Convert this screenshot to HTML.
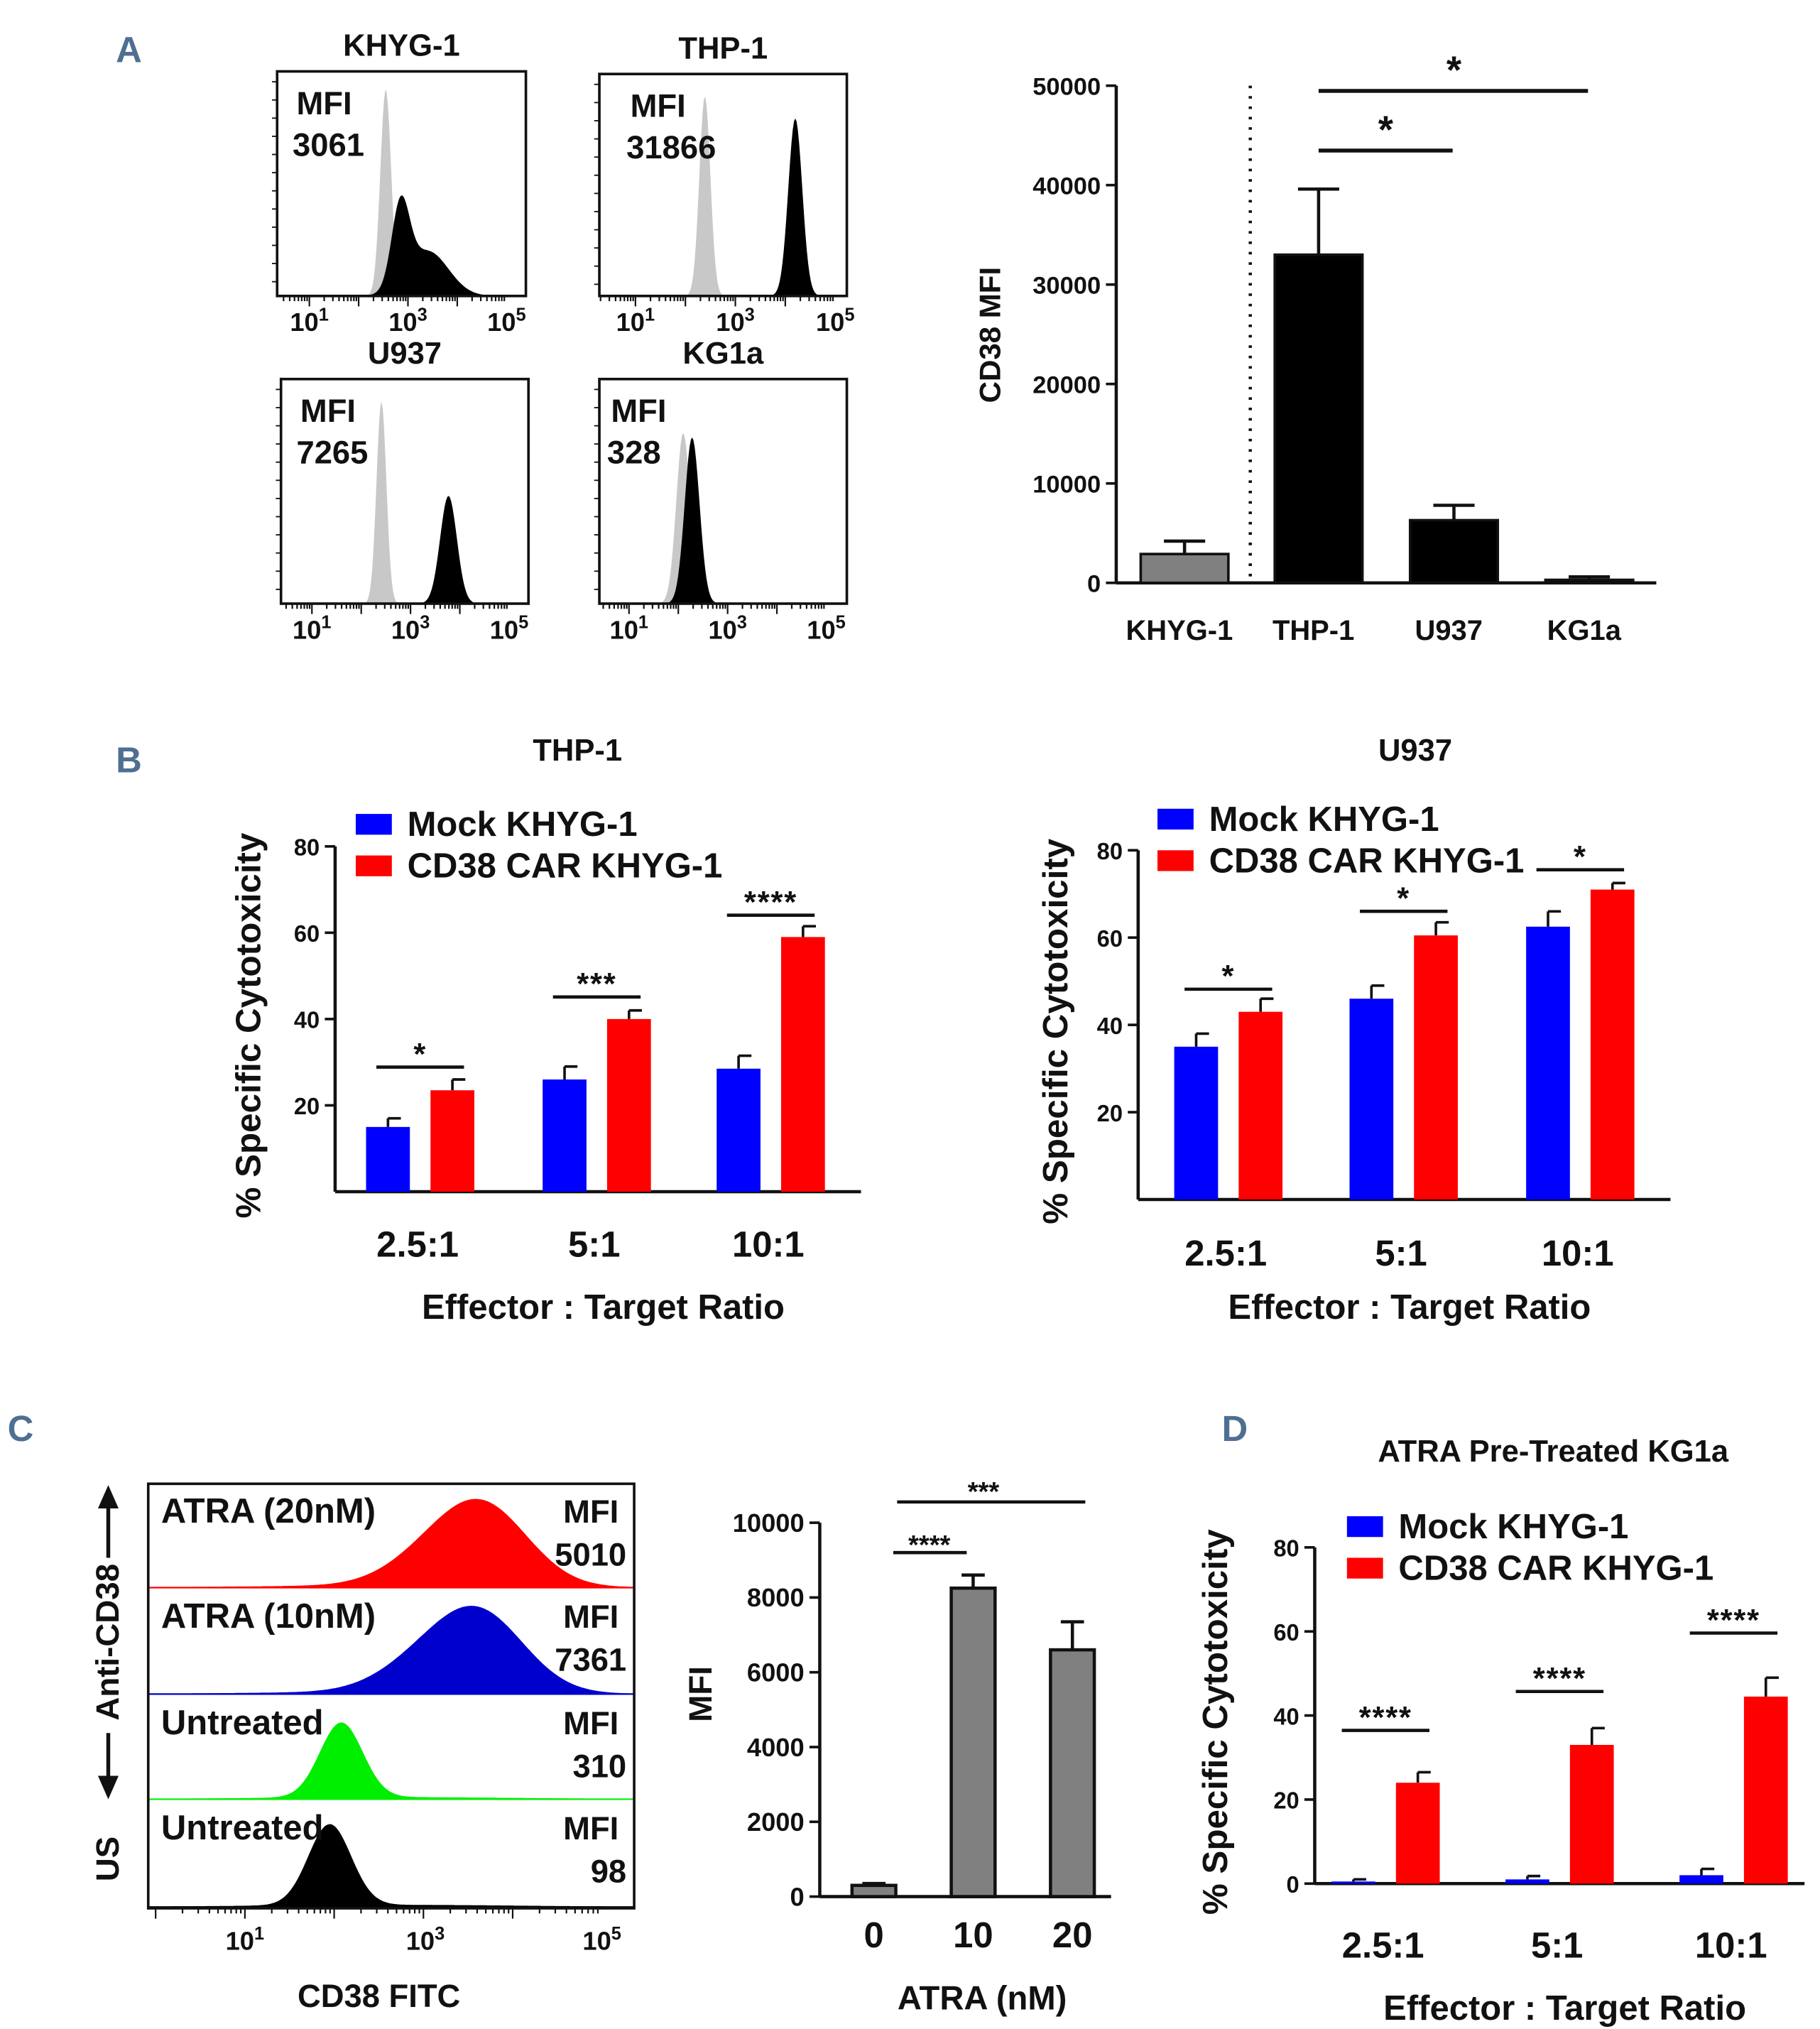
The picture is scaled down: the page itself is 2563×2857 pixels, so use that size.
<!DOCTYPE html>
<html><head><meta charset="utf-8"><style>
html,body{margin:0;padding:0;background:#fff}
svg{display:block}
text{font-family:"Liberation Sans",sans-serif;font-weight:bold;fill:#111}
</style></head><body>
<svg id="fig" width="2563" height="2857" viewBox="0 0 1412 1563" preserveAspectRatio="none" xmlns="http://www.w3.org/2000/svg">
<rect width="1412" height="1563" fill="#fff"/>
</svg>
<script>
// ---- data ----
const aCats=["KHYG-1","THP-1","U937","KG1a"];
const aVals=[2900,33000,6300,300];
const aErr=[4200,39600,7800,600];
const aTicks=[0,10000,20000,30000,40000,50000];
const bCats=["2.5:1","5:1","10:1"];
const bThpMock=[15,26,28.5];
const bThpMockErr=[17,29,31.5];
const bThpCar=[23.5,40,59];
const bThpCarErr=[26,42,61.5];
const bU937Mock=[35,46,62.5];
const bU937MockErr=[38,49,66];
const bU937Car=[43,60.5,71];
const bU937CarErr=[46,63.5,72.5];
const cCats=["0","10","20"];
const cVals=[300,8250,6600];
const cErr=[350,8600,7350];
const cTicks=[0,2000,4000,6000,8000,10000];
const dMock=[0.5,1,2];
const dMockErr=[1,1.8,3.5];
const dCar=[24,33,44.5];
const dCarErr=[26.5,37,49];
const pctTicks=[20,40,60,80];
const dTicks=[0,20,40,60,80];

const NS="http://www.w3.org/2000/svg";
const svg=document.getElementById('fig');
function el(tag,attrs,parent){const e=document.createElementNS(NS,tag);for(const k in attrs)e.setAttribute(k,attrs[k]);(parent||svg).appendChild(e);return e;}
function txt(x,y,s,size,anchor,name,extra){const t=el('text',Object.assign({x:x,y:y,'font-size':size,'text-anchor':anchor||'middle'},extra||{}));t.textContent=s;


return t;}
function line(x1,y1,x2,y2,w,name,extra){const l=el('line',Object.assign({x1:x1,y1:y1,x2:x2,y2:y2,stroke:'#111','stroke-width':w||2},extra||{}));


return l;}
function rect(x,y,w,h,fill,name){const r=el('rect',{x:x,y:y,width:w,height:h,fill:fill});


return r;}
function pow10(x,y,exp,size,name){const t=el('text',{x:x,y:y,'font-size':size,'text-anchor':'middle'});


t.textContent='10';const s=el('tspan',{dy:-8,'font-size':size*0.7},t);s.textContent=exp;}
const panelColor='#4f6f92';

[['A',100,48],['B',100,595],['C',16,1110],['D',958,1110]].forEach(p=>{const t=txt(p[1],p[2],p[0],28,'middle','panel-label-'+p[0].toLowerCase(),{fill:panelColor});t.style.fill=panelColor;});

function hist(box,t1,t5,comps,fill,name){
  const [x0,y0,x1,y1]=box;const per=(t5-t1)/4;const H=y1-y0;
  let d='M'+x0+','+y1;
  for(let x=x0;x<=x1;x+=1){const lv=1+(x-t1)/per;let v=0;comps.forEach(c=>{v+=c[2]*Math.exp(-0.5*Math.pow((lv-c[0])/c[1],2));});
    d+=' L'+x+','+(y1-Math.min(v,0.98)*H).toFixed(1);}
  d+=' L'+x1+','+y1+' Z';
  const p=el('path',{d:d,fill:fill,stroke:'none'});
  
  
}
function flowPanel(box,t1,t5,title,mfi,grey,black,key,labelX){
  const [x0,y0,x1,y1]=box;
  hist(box,t1,t5,grey,'#c8c8c8',key+'-isotype-histogram');
  hist(box,t1,t5,black,'#000',key+'-cd38-histogram');
  const r=el('rect',{x:x0,y:y0,width:x1-x0,height:y1-y0,fill:'none',stroke:'#111','stroke-width':2});
  
  
  for(let d=0;d<5;d++){for(let m=1;m<10;m++){const x=t1+(d-1+Math.log10(m))*(t5-t1)/4;if(x<x0||x>x1)continue;line(x,y1,x,y1+(m==1?8:4),1.2,key+'-x-tick');}}
  for(let i=0;i<12;i++){line(x0,y0+8+i*14,x0-4,y0+8+i*14,1,key+'-y-tick');}
  txt((x0+x1)/2,y0-12,title,24,'middle',key+'-title');
  txt(labelX,y0+33,'MFI',25,'start',key+'-mfi-label');
  txt(labelX-3,y0+65,mfi,25,'start',key+'-mfi-value');
  pow10(t1,y1+27,'1',20,key+'-tick-label-1');
  pow10(t1+(t5-t1)/2,y1+27,'3',20,key+'-tick-label-3');
  pow10(t5,y1+27,'5',20,key+'-tick-label-5');
}
flowPanel([215,55,408,228],240,393,'KHYG-1','3061',[[2.55,0.11,0.92]],[[2.85,0.18,0.36],[3.4,0.42,0.2]],'khyg1',230);
flowPanel([465,57,657,228],493,648,'THP-1','31866',[[2.39,0.11,0.9]],[[4.2,0.14,0.8]],'thp1',489);
flowPanel([218,292,410,465],242,395,'U937','7265',[[2.41,0.1,0.9]],[[3.77,0.17,0.48]],'u937',233);
flowPanel([465,292,657,465],488,641,'KG1a','328',[[2.1,0.14,0.76]],[[2.28,0.15,0.74]],'kg1a',474);

(function(){
  const ax=866,y0=449,yTop=66,xEnd=1285;
  const y=v=>y0-(v/50000)*(y0-yTop);
  const xs=[919,1023,1128,1233],w=68;
  line(ax,yTop,ax,y0,2.5,'a-y-axis');line(ax,y0,xEnd,y0,2.5,'a-x-axis');
  aTicks.forEach(t=>{line(ax-8,y(t),ax,y(t),2,'a-y-tick');txt(ax-12,y(t)+7,String(t),19,'end','a-y-tick-label');});
  txt(0,0,'CD38 MFI',23,'middle','a-y-axis-title',{transform:'translate(776,258) rotate(-90)'});
  line(970,yTop,970,y0,2.5,'a-divider',{'stroke-dasharray':'2,6'});
  aCats.forEach((c,i)=>{const cx=xs[i];
    line(cx,y(aErr[i]),cx,y(aVals[i]),2.5,'a-error-bar');line(cx-16,y(aErr[i]),cx+16,y(aErr[i]),2.5,'a-error-cap');
    const r=rect(cx-w/2,y(aVals[i]),w,y0-y(aVals[i]),i==0?'#808080':'#000','a-bar-'+c.toLowerCase());r.setAttribute('stroke','#111');r.setAttribute('stroke-width','2');
    txt(cx-4,493,c,22,'middle','a-x-tick-label');});
  line(1023,116,1127,116,3,'a-sig-line-u937');txt(1075,110,'*',30,'middle','a-sig-star-u937');
  line(1023,70,1232,70,3,'a-sig-line-kg1a');txt(1128,64,'*',30,'middle','a-sig-star-kg1a');
})();

function grouped(cfg){
  const {ax,y0,y80,xEnd,centers,mock,mockErr,car,carErr,ticks,key,sigY,sigLabel,legX,legY,ylabX,tickY,effY,title,titleX,yTop,maxV}=cfg;
  const y=v=>y0-(v/maxV)*(y0-y80);
  line(ax,yTop,ax,y0,2.5,key+'-y-axis');line(ax,y0,xEnd,y0,2.5,key+'-x-axis');
  ticks.forEach(t=>{line(ax-8,y(t),ax,y(t),2,key+'-y-tick');txt(ax-12,y(t)+7,String(t),18,'end',key+'-y-tick-label');});
  centers.forEach((cx,i)=>{
    const bx=cx-42,rx=cx+8,w=34;
    line(bx+w/2,y(mockErr[i]),bx+w/2,y(mock[i]),2,key+'-mock-error');line(bx+w/2,y(mockErr[i]),bx+w/2+10,y(mockErr[i]),2,key+'-mock-error-cap');
    line(rx+w/2,y(carErr[i]),rx+w/2,y(car[i]),2,key+'-car-error');line(rx+w/2,y(carErr[i]),rx+w/2+10,y(carErr[i]),2,key+'-car-error-cap');
    rect(bx,y(mock[i]),w,y0-y(mock[i]),'#0000ff',key+'-bar-mock-'+i);
    rect(rx,y(car[i]),w,y0-y(car[i]),'#ff0000',key+'-bar-car-'+i);
    txt(cx-2,tickY,bCats[i],28,'middle',key+'-x-tick-label');
    line(bx+w/2-9,sigY[i],rx+w/2+9,sigY[i],2.5,key+'-sig-line');
    txt(cx,sigY[i]-2,sigLabel[i],24,'middle',key+'-sig-label',{'letter-spacing':'1'});
  });
  rect(legX,legY-17,28,16,'#0000ff',key+'-legend-mock-swatch');txt(legX+40,legY,'Mock KHYG-1',27,'start',key+'-legend-mock');
  rect(legX,legY+15,28,16,'#ff0000',key+'-legend-car-swatch');txt(legX+40,legY+32,'CD38 CAR KHYG-1',27,'start',key+'-legend-car');
  txt(0,0,'% Specific Cytotoxicity',27,'middle',key+'-y-axis-title',{transform:'translate('+ylabX+','+((yTop+y0)/2+5)+') rotate(-90)'});
  txt((ax+xEnd)/2+4,effY,'Effector : Target Ratio',27,'middle',key+'-x-axis-title');
  if(title)txt(titleX,cfg.titleY,title,24,'middle',key+'-title');
}
grouped({ax:260,y0:918,y80:652,yTop:652,xEnd:668,maxV:80,centers:[326,463,598],mock:bThpMock,mockErr:bThpMockErr,car:bThpCar,carErr:bThpCarErr,ticks:pctTicks,key:'b-thp1',sigY:[822,768,705],sigLabel:['*','***','****'],legX:276,legY:644,ylabX:202,tickY:968,effY:1016,title:'THP-1',titleX:448,titleY:586});
grouped({ax:883,y0:924,y80:655,yTop:655,xEnd:1296,maxV:80,centers:[953,1089,1226],mock:bU937Mock,mockErr:bU937MockErr,car:bU937Car,carErr:bU937CarErr,ticks:pctTicks,key:'b-u937',sigY:[762,702,670],sigLabel:['*','*','*'],legX:898,legY:640,ylabX:828,tickY:975,effY:1016,title:'U937',titleX:1098,titleY:586});
grouped({ax:1020,y0:1451,y80:1192,yTop:1192,xEnd:1400,maxV:80,centers:[1075,1210,1345],mock:dMock,mockErr:dMockErr,car:dCar,carErr:dCarErr,ticks:dTicks,key:'d-kg1a',sigY:[1333,1303,1258],sigLabel:['****','****','****'],legX:1045,legY:1185,ylabX:952,tickY:1508,effY:1556,title:'ATRA Pre-Treated KG1a',titleX:1205,titleY:1126});

(function(){
  const x0=115,x1=492,t1=190,t5=467;
  const rows=[[1143,1224,'#ff0000','ATRA (20nM)','5010',[[3.7,0.5,0.7],[3.1,0.5,0.25]],'atra20'],
              [1224,1306,'#0000cc','ATRA (10nM)','7361',[[3.65,0.5,0.7],[3.0,0.5,0.25]],'atra10'],
              [1306,1387,'#00ee00','Untreated','310',[[2.08,0.24,0.72]],'untreated'],
              [1387,1470,'#000','Untreated','98',[[1.95,0.24,0.76]],'unstained']];
  rows.forEach(r=>{
    hist([x0,r[0],x1,r[1]-1],t1,t5,r[5].concat([[2.6,1.5,0.02]]),r[2],'c-histogram-'+r[6]);
    line(x0,r[1]-1,x1,r[1]-1,1.2,'c-baseline-'+r[6],{stroke:r[2]});
    txt(x0+10,r[0]+30,r[3],27,'start','c-label-'+r[6]);
    txt(480,r[0]+30,'MFI',25,'end','c-mfi-label-'+r[6]);
    txt(486,r[0]+63,r[4],25,'end','c-mfi-value-'+r[6]);
  });
  const f=el('rect',{x:x0,y:1143,width:x1-x0,height:327,fill:'none',stroke:'#111','stroke-width':2});
  
  
  for(let d=0;d<5;d++){for(let m=1;m<10;m++){const x=t1+(d-1+Math.log10(m))*(t5-t1)/4;if(x<x0||x>x1)continue;line(x,1470,x,1470+(m==1?8:4),1.2,'c-x-tick');}}
  pow10(190,1502,'1',20,'c-tick-label-1');pow10(330,1502,'3',20,'c-tick-label-3');pow10(467,1502,'5',20,'c-tick-label-5');
  txt(294,1546,'CD38 FITC',25,'middle','c-x-axis-title');
  txt(0,0,'Anti-CD38',25,'middle','c-y-axis-title',{transform:'translate(92,1265) rotate(-90)'});
  txt(0,0,'US',25,'middle','c-us-label',{transform:'translate(92,1432) rotate(-90)'});
  line(84,1152,84,1200,3,'c-arrow-up');el('path',{d:'M76,1162 L84,1144 L92,1162 Z',fill:'#111'});
  line(84,1335,84,1378,3,'c-arrow-down');el('path',{d:'M76,1368 L84,1386 L92,1368 Z',fill:'#111'});
})();

(function(){
  const ax=636,y0=1461,yTop=1173,xEnd=862;
  const y=v=>y0-(v/10000)*(y0-yTop);
  const xs=[678,755,832],w=34;
  line(ax,yTop,ax,y0,2.5,'c-y-axis');line(ax,y0,xEnd,y0,2.5,'c-x-axis');
  cTicks.forEach(t=>{line(ax-8,y(t),ax,y(t),2,'c-y-tick');txt(ax-12,y(t)+7,String(t),20,'end','c-y-tick-label');});
  cCats.forEach((c,i)=>{const cx=xs[i];
    line(cx,y(cErr[i]),cx,y(cVals[i]),2.5,'c-error-bar');line(cx-9,y(cErr[i]),cx+9,y(cErr[i]),2.5,'c-error-cap');
    const r=rect(cx-w/2,y(cVals[i]),w,y0-y(cVals[i]),'#808080','c-bar-'+c);r.setAttribute('stroke','#111');r.setAttribute('stroke-width','2.5');
    txt(cx,1500,c,28,'middle','c-x-tick-label');});
  txt(762,1548,'ATRA (nM)',26,'middle','c-bar-x-axis-title');
  txt(0,0,'MFI',25,'middle','c-bar-y-axis-title',{transform:'translate(552,1305) rotate(-90)'});
  line(693,1196,750,1196,2.5,'c-sig-line-10');txt(721,1197,'****',21,'middle','c-sig-label-10');
  line(696,1157,842,1157,2.5,'c-sig-line-20');txt(763,1156,'***',21,'middle','c-sig-label-20');
})();
</script>
</body></html>
